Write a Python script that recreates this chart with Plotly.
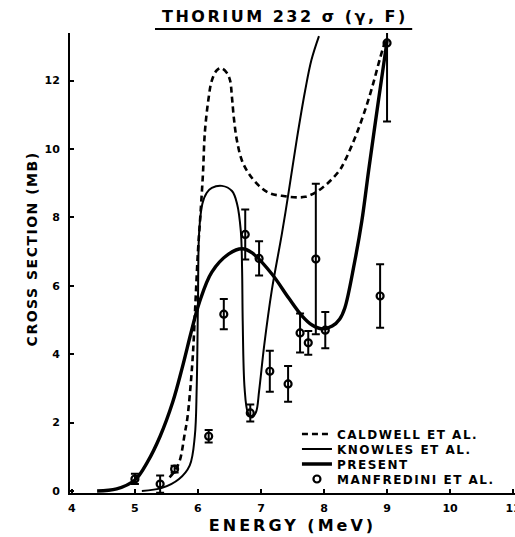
import plotly.graph_objects as go

# ---- data ----
caldwell_E = [5.55, 5.63, 5.71, 5.79, 5.83, 5.87, 5.92, 5.96, 6.00, 6.04, 6.08, 6.11, 6.17, 6.22,
              6.30, 6.37, 6.46, 6.51, 6.54, 6.57, 6.62, 6.70, 6.81, 6.97, 7.13, 7.33, 7.70, 7.97,
              8.24, 8.33, 8.49, 8.63, 8.76, 8.89, 8.97]
caldwell_s = [0.40, 0.58, 0.88, 1.67, 2.10, 2.80, 4.00, 5.50, 7.00, 8.10, 9.30, 10.50, 11.50, 12.00,
              12.30, 12.36, 12.22, 12.00, 11.50, 10.90, 10.23, 9.65, 9.27, 8.92, 8.71, 8.63, 8.60, 8.86,
              9.36, 9.65, 10.32, 11.02, 11.78, 12.66, 13.16]

knowles_E = [5.11, 5.43, 5.70, 5.87, 5.95, 5.98, 6.00, 6.02, 6.07, 6.14, 6.22, 6.38, 6.54, 6.62,
             6.68, 6.70, 6.71, 6.74, 6.79, 6.85, 6.92, 6.97, 7.05, 7.17, 7.33, 7.44, 7.57, 7.70,
             7.80, 7.92]
knowles_s = [0.00, 0.09, 0.35, 0.75, 1.60, 3.00, 5.50, 7.60, 8.40, 8.72, 8.86, 8.92, 8.77, 8.40,
             7.60, 6.50, 4.97, 3.00, 2.30, 2.15, 2.30, 2.92, 4.24, 5.85, 7.50, 8.75, 10.30, 11.70,
             12.60, 13.30]

present_E = [4.40, 4.71, 5.00, 5.20, 5.40, 5.60, 5.75, 5.90, 6.02, 6.22, 6.49, 6.70, 6.86, 7.17,
             7.44, 7.65, 7.81, 7.97, 8.13, 8.25, 8.33, 8.48, 8.60, 8.71, 8.87, 9.00]
present_s = [0.00, 0.06, 0.32, 0.85, 1.60, 2.60, 3.60, 4.70, 5.50, 6.40, 6.93, 7.08, 6.96, 6.35,
             5.64, 5.12, 4.85, 4.74, 4.82, 5.03, 5.35, 6.64, 7.89, 9.40, 11.50, 13.16]

manfredini_E = [5.00, 5.40, 5.63, 6.17, 6.41, 6.75, 6.83, 6.97, 7.14, 7.43, 7.62, 7.75, 7.87, 8.02, 8.89, 9.00]
manfredini_s = [0.35, 0.20, 0.64, 1.60, 5.17, 7.50, 2.28, 6.80, 3.50, 3.13, 4.62, 4.33, 6.78, 4.70, 5.70, 13.10]
manfredini_err = [0.15, 0.25, 0.10, 0.18, 0.44, 0.73, 0.25, 0.50, 0.60, 0.52, 0.57, 0.35, 2.20, 0.53, 0.93, 2.30]

legend_labels = ["CALDWELL ET AL.", "KNOWLES ET AL.", "PRESENT", "MANFREDINI ET AL."]
x_ticks = [4, 5, 6, 7, 8, 9, 10, 11]
y_ticks = [0, 2, 4, 6, 8, 10, 12]

FONT = "DejaVu Sans"


def spaced(txt, ls):
    return f"<span style='letter-spacing:{ls}px'><b>{txt}</b></span>"


fig = go.Figure()
fig.add_trace(go.Scatter(x=caldwell_E, y=caldwell_s, mode="lines", name=spaced(legend_labels[0], 1.5),
                         legend="legend",
                         line=dict(color="black", width=2.6, dash="6px,4px", shape="spline", smoothing=1)))
fig.add_trace(go.Scatter(x=knowles_E, y=knowles_s, mode="lines", name=spaced(legend_labels[1], 1.5),
                         legend="legend2",
                         line=dict(color="black", width=2.0, shape="spline", smoothing=1)))
fig.add_trace(go.Scatter(x=present_E, y=present_s, mode="lines", name=spaced(legend_labels[2], 1.5),
                         legend="legend3",
                         line=dict(color="black", width=3.4, shape="spline", smoothing=1)))
fig.add_trace(go.Scatter(x=manfredini_E, y=manfredini_s, mode="markers", name=spaced(legend_labels[3], 1.5),
                         legend="legend4",
                         marker=dict(symbol="circle-open", size=7, color="black", line=dict(width=2.2)),
                         error_y=dict(type="data", array=manfredini_err, visible=True,
                                      color="black", thickness=2, width=4)))

leg_common = dict(x=0.510, xanchor="left", yanchor="middle", bgcolor="rgba(0,0,0,0)",
                  font=dict(family=FONT, size=12, color="black"), itemwidth=30)
row_y = [0.1283, 0.0957, 0.0630, 0.0304]

fig.update_layout(
    width=515, height=537,
    margin=dict(l=70, r=0, t=33, b=44, autoexpand=False),
    paper_bgcolor="white", plot_bgcolor="white",
    font=dict(family=FONT, color="black"),
    showlegend=True,
    legend=dict(y=row_y[0], **leg_common),
    legend2=dict(y=row_y[1], **leg_common),
    legend3=dict(y=row_y[2], **leg_common),
    legend4=dict(y=row_y[3], **leg_common),
    annotations=[
        dict(text=spaced("THORIUM 232 σ (γ, F)", 2.5), xref="paper", yref="paper", x=0.483, y=1.0,
             yshift=17, xanchor="center", yanchor="middle", showarrow=False,
             font=dict(family=FONT, size=16, color="black")),
        dict(text=spaced("CROSS SECTION (MB)", 1.5), xref="paper", yref="paper", x=-0.085, y=0.53,
             xanchor="center", yanchor="middle", textangle=-90, showarrow=False,
             font=dict(family=FONT, size=14, color="black")),
    ],
    shapes=[
        dict(type="line", xref="paper", yref="paper", x0=0.191, x1=0.769, y0=1.0087, y1=1.0087,
             line=dict(color="black", width=2)),
    ],
)

fig.update_xaxes(range=[3.97, 11.03], tickvals=x_ticks, ticktext=[f"<b>{v}</b>" for v in x_ticks],
                 ticks="inside", ticklen=4, tickwidth=1.5, tickcolor="black", automargin=False,
                 showline=True, linecolor="black", linewidth=2, showgrid=False, zeroline=False,
                 tickfont=dict(family=FONT, size=11), ticklabelstandoff=4, ticklabeloverflow="allow",
                 title=dict(text=spaced("ENERGY (MeV)", 3), font=dict(family=FONT, size=16), standoff=6))
fig.update_yaxes(range=[-0.06, 13.39], tickvals=y_ticks, ticktext=[f"<b>{v}</b>" for v in y_ticks],
                 ticks="inside", ticklen=4, tickwidth=1.5, tickcolor="black", automargin=False,
                 showline=True, linecolor="black", linewidth=2, showgrid=False, zeroline=False,
                 tickfont=dict(family=FONT, size=11), ticklabelstandoff=6)

fig.write_html("out.html")
